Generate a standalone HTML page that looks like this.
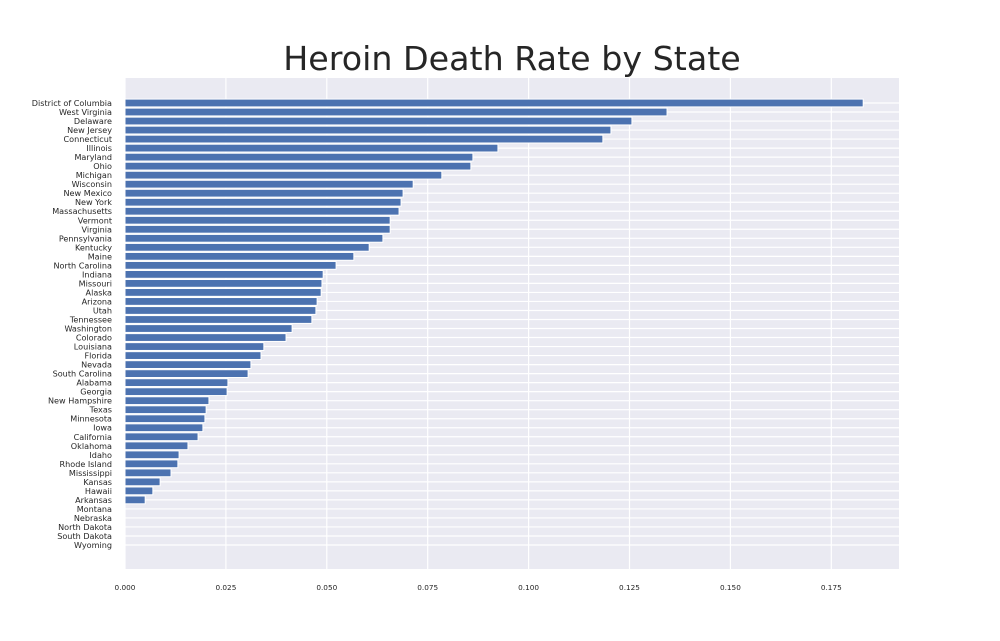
<!DOCTYPE html>
<html><head><meta charset="utf-8"><style>
body{margin:0;background:#fff;font-family:"DejaVu Sans","Liberation Sans",sans-serif}
svg{display:block}
</style></head><body>
<svg id="chart" width="1000" height="641" xmlns="http://www.w3.org/2000/svg" font-family="DejaVu Sans, Liberation Sans, sans-serif">
<text x="512" y="70" text-anchor="middle" font-size="33.3" fill="#262626">Heroin Death Rate by State</text>
<rect x="125" y="78" width="774" height="491" fill="#eaeaf2"/>
<g id="grid"></g><g id="bars"></g><g id="ylab"></g><g id="xlab"></g>
</svg>
<script>
const states=["District of Columbia","West Virginia","Delaware","New Jersey","Connecticut","Illinois","Maryland","Ohio","Michigan","Wisconsin","New Mexico","New York","Massachusetts","Vermont","Virginia","Pennsylvania","Kentucky","Maine","North Carolina","Indiana","Missouri","Alaska","Arizona","Utah","Tennessee","Washington","Colorado","Louisiana","Florida","Nevada","South Carolina","Alabama","Georgia","New Hampshire","Texas","Minnesota","Iowa","California","Oklahoma","Idaho","Rhode Island","Mississippi","Kansas","Hawaii","Arkansas","Montana","Nebraska","North Dakota","South Dakota","Wyoming"];
const rates=[0.1829,0.1343,0.1256,0.1204,0.1184,0.0924,0.0862,0.0857,0.0785,0.0714,0.0689,0.0684,0.0679,0.0657,0.0657,0.0639,0.0605,0.0567,0.0523,0.0491,0.0488,0.0486,0.0476,0.0473,0.0463,0.0414,0.0399,0.0344,0.0337,0.0312,0.0305,0.0255,0.0253,0.0208,0.0201,0.0198,0.0193,0.0181,0.0156,0.0134,0.0131,0.0114,0.0087,0.0069,0.0050,0,0,0,0,0];
const xTicks=[0,0.025,0.05,0.075,0.1,0.125,0.15,0.175];
const xTickLabels=["0.000","0.025","0.050","0.075","0.100","0.125","0.150","0.175"];
const NS="http://www.w3.org/2000/svg";
const x=v=>125+v*4036;
const y0=103, step=(545-103)/49;
const y=i=>y0+i*step;
function mk(t,a,p){const e=document.createElementNS(NS,t);for(const k in a)e.setAttribute(k,a[k]);p.appendChild(e);return e;}
const grid=document.getElementById('grid'),bars=document.getElementById('bars'),yl=document.getElementById('ylab'),xl=document.getElementById('xlab');
xTicks.forEach((v,i)=>{
 const l=mk('line',{x1:x(v),x2:x(v),y1:78,y2:569,stroke:'#fff','stroke-width':1.2},grid);
 
 
 const t=mk('text',{x:x(v),y:590,'text-anchor':'middle','font-size':7.3,fill:'#262626'},xl);
 t.textContent=xTickLabels[i];
 
 
});
states.forEach((s,i)=>{
 const g=mk('line',{x1:125,x2:899,y1:y(i),y2:y(i),stroke:'#fff','stroke-width':1.2},grid);
 
 
 if(rates[i]>0){
  const r=mk('rect',{x:125,y:y(i)-3.9,width:x(rates[i])-125,height:7.8,fill:'#4c72b0',stroke:'#fff','stroke-width':1},bars);
  
  
 }
 const t=mk('text',{x:112,y:y(i)+3,'text-anchor':'end','font-size':8.1,fill:'#262626'},yl);
 t.textContent=s;
 
 
});
</script>
</body></html>
